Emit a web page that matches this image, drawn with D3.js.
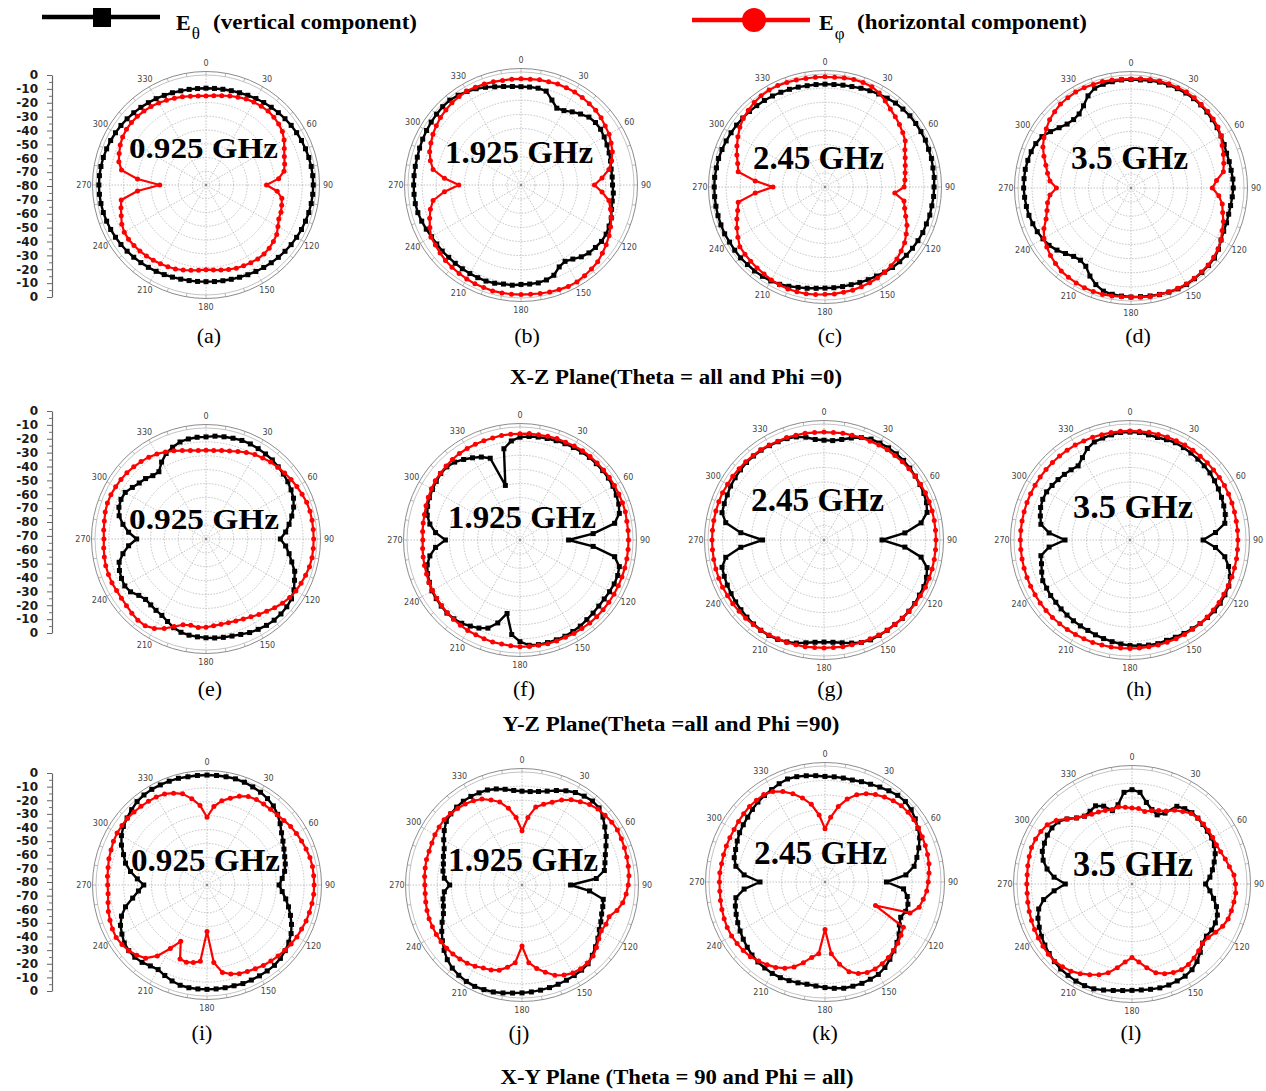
<!DOCTYPE html>
<html>
<head>
<meta charset="utf-8">
<script src="https://cdn.jsdelivr.net/npm/d3@7"></script>
<style>
  body { margin: 0; background: #fff; }
</style>
</head>
<body>
<svg id="chart" width="1266" height="1091"></svg>
<script>
// ---- categories and tick labels ----
const angles = d3.range(0, 360, 5);            // sampling angle, degrees
const angleTicks = [0, 30, 60, 90, 120, 150, 180, 210, 240, 270, 300, 330];
const ringLevels = [-70, -60, -50, -40, -30, -20, -10];
const scaleLabels = ["0","-10","-20","-30","-40","-50","-60","-70","-80","-70","-60","-50","-40","-30","-20","-10","0"];
const frequencies = ["0.925 GHz", "1.925 GHz", "2.45 GHz", "3.5 GHz"];
const panelTags = ["(a)","(b)","(c)","(d)","(e)","(f)","(g)","(h)","(i)","(j)","(k)","(l)"];
const planeTitles = [
  "X-Z Plane(Theta = all and Phi =0)",
  "Y-Z Plane(Theta =all and Phi =90)",
  "X-Y Plane (Theta = 90 and Phi = all)"
];
const legendNames = ["vertical component", "horizontal component"];

// ---- normalised patterns in dB, one value every 5 degrees ----
// X-Z plane
const xzTheta0925 = [
 -9.6,-9.5,-9.3,-9,-8.6,-8,-7.4,-6.8,-6.2,-5.6,-5,-4.4,
 -3.9,-3.4,-3,-2.6,-2.3,-2.1,-2,-2.1,-2.3,-2.6,-3,-3.4,
 -3.9,-4.4,-5,-5.6,-6.2,-6.8,-7.4,-8,-8.6,-9,-9.3,-9.5,
 -9.7,-9.6,-9.4,-9.1,-8.7,-8.1,-7.5,-6.9,-6.3,-5.7,-5.1,-4.5,
 -4,-3.5,-3.1,-2.7,-2.4,-2.2,-2.1,-2.2,-2.4,-2.7,-3.1,-3.5,
 -4,-4.5,-5.1,-5.7,-6.3,-6.9,-7.5,-8.1,-8.6,-9.1,-9.4,-9.6];
const xzPhi0925 = [
 -15.2,-14.8,-14,-13,-12,-11,-10.4,-10,-9.8,-10.2,-11,-12.2,
 -14.4,-17.2,-19.4,-20.8,-22.4,-27,-36,-28,-24,-23,-22,-21.6,
 -19.6,-17.2,-16,-15,-14.4,-14.4,-14.8,-15.2,-15.6,-16.4,-17.2,-18,
 -18.4,-17.8,-17,-16,-15,-14.4,-13.8,-13.2,-12.6,-12,-11.6,-11.2,
 -11.4,-12.4,-14.4,-16,-17.4,-30,-46.4,-30,-17.6,-14.4,-12.8,-11.2,
 -10,-9.4,-9.2,-9.4,-9.8,-10.4,-11.2,-12,-12.8,-13.6,-14.4,-15];
const xzTheta1925 = [
 -10.4,-10.4,-10.4,-11.2,-16,-20,-19.2,-16.8,-14.4,-12,-11.2,-11.2,
 -12,-12.8,-13.6,-14.4,-15.2,-15.2,-15.2,-14.4,-14.4,-13.6,-12,-11.2,
 -10.4,-10.4,-11.2,-12,-13.6,-16,-17.6,-16,-12,-10.4,-9.6,-9.6,
 -9.6,-8.8,-8.8,-8,-7.6,-7.6,-7.6,-7.6,-7.6,-7.6,-7.2,-7.2,
 -6.8,-6,-5.2,-4.4,-4,-4,-4,-4,-4,-4,-3.6,-3.2,
 -2.8,-2.4,-2,-1.6,-1.6,-2.4,-3.6,-4.8,-6.4,-8,-9.2,-10];
const xzPhi1925 = [
 -4.8,-4.8,-4.4,-4.4,-4,-4,-4,-4.4,-4.8,-5.2,-6,-7.2,
 -8,-9.6,-11.2,-13.6,-16.8,-22.4,-28,-22.4,-16.8,-14.4,-12,-10,
 -8,-6.4,-4.8,-3.2,-2.4,-1.6,-0.8,-0.8,-1.2,-1.6,-2,-2.4,
 -2.4,-2.4,-2.4,-2.4,-2.8,-2.8,-3.2,-3.6,-4,-4.4,-5.2,-6,
 -6.4,-8.8,-11.2,-13.6,-16.8,-25.6,-36,-25.6,-16.8,-13.6,-11.2,-9.6,
 -8,-6.8,-5.6,-4.8,-4,-3.6,-3.2,-3.6,-4,-4.4,-4.8,-4.8];
const xzTheta245 = [
 -7.2,-7.2,-6.8,-6.4,-5.6,-4.8,-4,-3.2,-2.4,-2,-1.6,-1.6,
 -1.6,-1.6,-2,-2,-2.4,-2.4,-2.8,-2.8,-3.2,-3.2,-3.6,-3.6,
 -4,-4.4,-4.8,-5.2,-5.6,-6.4,-7.2,-7.6,-8,-8.4,-8.4,-8.4,
 -8.4,-8,-7.2,-6.4,-5.2,-4,-3.2,-2.8,-2.4,-2.4,-2,-2,
 -2,-1.6,-1.6,-1.6,-1.6,-1.6,-1.6,-1.6,-2,-2,-2.4,-2.8,
 -3.2,-3.6,-4,-4.4,-4.8,-5.2,-5.6,-6,-6.4,-6.8,-7.2,-7.2];
const xzPhi245 = [
 -2,-2,-1.6,-1.2,-1.2,-1.6,-3.2,-5.6,-8,-9.6,-11.2,-12.8,
 -14.4,-17.6,-19.6,-21.2,-22.4,-23.2,-24,-30.4,-23.2,-21.6,-19.2,-16,
 -13.6,-11.2,-9.6,-8,-7.2,-6.4,-5.6,-5.2,-4.8,-4.4,-4.4,-4,
 -4,-3.6,-3.2,-3.2,-3.2,-3.6,-4,-4.8,-5.2,-5.6,-6,-6.4,
 -8.8,-11.2,-13.6,-16,-17.6,-30.4,-43.2,-30.4,-17.6,-16,-13.6,-11.2,
 -8.8,-6.4,-4.4,-3.2,-2,-1.2,-0.8,-0.8,-1.2,-1.6,-2,-2];
const xzTheta35 = [
 -3.2,-3.2,-2.8,-2.4,-2.4,-2.4,-2.4,-2.8,-3.2,-4,-4.8,-5.6,
 -6.4,-7.2,-8,-8,-8,-7.6,-7.6,-8,-8.4,-8.4,-8,-7.6,
 -6.4,-4.4,-2.8,-2.4,-2,-1.6,-1.2,-1.2,-1.6,-2,-2.4,-2.8,
 -2.8,-3.2,-3.6,-4.4,-7.2,-11.2,-16,-17.6,-16.8,-14.4,-11.6,-9.2,
 -8,-6.8,-6,-5.2,-4.8,-4.4,-4,-4,-4,-4.4,-4.8,-5.6,
 -7.2,-10.4,-13.6,-16,-16.8,-16,-12.8,-8,-4.8,-4,-3.6,-3.2];
const xzPhi35 = [
 -2.8,-2.4,-2,-1.6,-1.6,-1.6,-1.6,-2,-2.8,-3.2,-4,-4.8,
 -6.4,-8.8,-10.4,-12,-13.6,-19.2,-22.4,-17.6,-14.4,-12.8,-10.4,-8.8,
 -6.4,-4.8,-3.6,-2.8,-2.4,-2,-1.6,-1.6,-1.6,-2,-2,-2.4,
 -2.8,-2.8,-2.4,-2,-2,-2,-2.4,-2.8,-3.2,-4.4,-5.6,-7.2,
 -8.8,-12,-16,-18.4,-20,-22.4,-27.2,-22.4,-20,-17.6,-14.4,-11.2,
 -8.8,-6.8,-4.8,-3.6,-2.4,-2,-1.6,-1.6,-2,-2,-2.4,-2.8];

// Y-Z plane
const yzTheta0925 = [
 -6.4,-5.6,-5.2,-4.8,-4.4,-4.4,-4.8,-5.2,-5.6,-6.4,-7.2,-8,
 -9.2,-10.4,-12.8,-16,-19.2,-22.4,-26.4,-22.4,-19.2,-16,-12,-9.6,
 -6.8,-4.8,-4,-3.6,-3.6,-4,-4.8,-5.6,-6.8,-7.6,-8,-8.4,
 -8.8,-9.2,-9.6,-10.4,-12,-14.4,-16.4,-17.2,-18,-18.4,-16.8,-13.6,
 -12.4,-12.8,-13.6,-15.2,-19.2,-24,-30,-24,-19.2,-15.2,-13.2,-12.4,
 -12.8,-15.2,-17.2,-18.4,-20.4,-20.8,-16,-12,-9.6,-7.6,-6.8,-6.4];
const yzPhi0925 = [
 -16,-16,-15.2,-14.4,-12.8,-11.2,-9.6,-8.8,-7.6,-6.8,-6,-5.2,
 -4.4,-3.6,-2.8,-2.4,-2.4,-2.4,-2.4,-2.4,-2.4,-2.8,-3.6,-4.4,
 -5.2,-6.4,-8,-10,-12,-13.6,-15.2,-16.4,-17.2,-17.6,-17.6,-17.2,
 -16.4,-16,-16.8,-16,-12.8,-8.8,-5.6,-3.6,-3.6,-4.4,-5.2,-5.6,
 -5.6,-5.2,-5.2,-5.2,-5.6,-6,-6.4,-6,-5.6,-4.8,-4.4,-4.4,
 -4.8,-5.2,-5.6,-6.4,-7.2,-8,-9.2,-10.8,-12.4,-14,-15.2,-16];
const yzTheta1925 = [
 -7.2,-6.4,-6,-5.6,-5.2,-4.8,-4.4,-4,-3.6,-3.6,-3.6,-3.6,
 -4,-4.8,-5.6,-7.2,-12,-28,-45.6,-28,-12,-7.2,-6.4,-6.4,
 -6.8,-7.2,-7.2,-6.8,-6.4,-5.6,-5.2,-4.8,-4.8,-4.8,-4.8,-5.2,
 -8,-12.8,-27.2,-19.2,-13.6,-11.2,-9.6,-8,-7.2,-6.8,-7.2,-7.6,
 -8,-9.2,-10.4,-12,-15.2,-20,-27.2,-20,-15.2,-12,-10.4,-9.2,
 -8.4,-7.6,-6.8,-6.8,-8,-10.4,-12.8,-15.2,-18.4,-40,-14.4,-9.6];
const yzPhi1925 = [
 -4.8,-4.4,-4.4,-4,-3.6,-3.6,-3.2,-2.8,-2.8,-2.8,-2.8,-2.8,
 -2.8,-2.8,-2.8,-2.8,-3.2,-3.2,-3.2,-3.2,-3.2,-3.2,-3.2,-3.2,
 -3.2,-3.2,-3.2,-3.2,-3.2,-3.6,-3.6,-4,-4,-4,-4.4,-4.4,
 -4.4,-4.8,-5.2,-5.2,-5.6,-6,-6,-6.4,-6.8,-7.2,-7.6,-8,
 -8.4,-8.8,-9.6,-10,-10.4,-10.8,-11.2,-10.8,-10.4,-10,-9.2,-8.4,
 -7.6,-6.8,-6.4,-6,-5.6,-5.2,-5.2,-5.2,-5.2,-5.2,-4.8,-4.8];
const yzTheta245 = [
 -11.2,-11.2,-9.6,-7.2,-4.8,-3.2,-2.8,-2.4,-2.4,-2.4,-2.8,-3.2,
 -3.6,-4,-4.8,-6.4,-12,-24,-40,-24,-12,-6.4,-4.8,-4,
 -4,-3.6,-3.6,-3.6,-4,-4,-4,-4,-4.8,-6.4,-8,-9.2,
 -9.6,-9.2,-8,-6.4,-5.2,-4.4,-4,-4,-4.4,-4.8,-5.2,-5.6,
 -6,-6.4,-6.8,-7.2,-11.2,-22.4,-37.6,-22.4,-11.2,-7.2,-6.8,-6.4,
 -5.6,-5.2,-4.8,-4.4,-4.4,-4.4,-4.8,-5.2,-5.6,-6.4,-8,-10.4];
const yzPhi245 = [
 -5.6,-5.6,-5.2,-5.2,-4.8,-4.8,-4.4,-4,-4,-3.6,-3.6,-3.2,
 -3.2,-2.8,-2.8,-2.8,-2.8,-2.8,-2.8,-2.8,-2.8,-2.8,-2.8,-2.8,
 -3.2,-3.2,-3.6,-3.6,-4,-4,-4.4,-4.8,-4.8,-5.2,-5.2,-5.6,
 -5.6,-5.6,-5.2,-5.2,-4.8,-4.8,-4.4,-4,-4,-3.6,-3.6,-3.2,
 -3.2,-2.8,-2.8,-2.8,-2.8,-2.8,-2.8,-2.8,-2.8,-2.8,-2.8,-2.8,
 -3.2,-3.2,-3.6,-3.6,-4,-4,-4.4,-4.8,-4.8,-5.2,-5.2,-5.6];
const yzTheta35 = [
 -5.6,-5.6,-6.4,-6.8,-6.4,-6,-6.4,-6.8,-7.2,-7.6,-8,-8.8,
 -9.6,-10.4,-11.2,-12,-13.6,-20.8,-29.6,-20.8,-13.6,-9.6,-6.4,-4.8,
 -4.4,-4,-4,-4.4,-4.8,-5.2,-5.6,-6,-6.4,-6,-6.4,-6.8,
 -7.2,-8,-8.8,-9.6,-10.4,-11.2,-11.6,-12,-12.4,-12.8,-13.2,-13.2,
 -13.6,-13.6,-15.2,-16.8,-17.6,-24,-35.2,-24,-17.6,-16,-14.4,-13.6,
 -13.6,-14.4,-15.2,-16,-16.8,-17.6,-14.4,-10.4,-8,-7.2,-6.4,-5.6];
const yzPhi35 = [
 -4.8,-4.8,-4.6,-4.6,-4.4,-4.4,-4.4,-4.4,-4.6,-4.6,-4.8,-4.8,
 -4.8,-5,-5.2,-5.4,-5.6,-5.6,-5.6,-5.6,-5.4,-5.4,-5.2,-5.2,
 -5.2,-5,-5,-4.8,-4.8,-4.8,-4.8,-4.8,-5,-5,-5.2,-5.2,
 -5.2,-5.2,-5,-5,-4.8,-4.8,-4.8,-4.6,-4.6,-4.4,-4.4,-4.4,
 -4.4,-4.4,-4.4,-4.4,-4.4,-4.4,-4.4,-4.4,-4.4,-4.4,-4.4,-4.4,
 -4.4,-4.4,-4.4,-4.4,-4.4,-4.4,-4.4,-4.6,-4.6,-4.8,-4.8,-4.8];

// X-Y plane
const xyTheta0925 = [
 -0.8,-0.8,-0.8,-0.8,-1.2,-2,-2.8,-4,-5.6,-8,-11.2,-14.4,
 -16.8,-18.8,-20.4,-21.6,-23.2,-25.6,-28,-25.6,-22.4,-19.2,-16,-12.8,
 -10,-8,-6.4,-5.2,-4.4,-4.4,-4.4,-4.4,-4.4,-4.8,-4.8,-4.8,
 -4.8,-4.8,-4.8,-5.2,-6.4,-8,-9.6,-8.8,-7.2,-6.4,-6.4,-7.2,
 -9.2,-11.2,-14.4,-19.2,-25.6,-30.4,-34.4,-29.6,-24,-19.2,-16,-12,
 -8.8,-6.4,-4.8,-3.2,-1.6,-0.8,-0.4,-0.4,-0.4,-0.4,-0.8,-0.8];
const xyPhi0925 = [
 -31.2,-23.2,-18.4,-15.2,-12,-9.6,-8.8,-8.8,-8.8,-8.4,-7.6,-6.4,
 -5.6,-4.8,-4,-3.2,-2.8,-2.8,-2.8,-2.8,-3.2,-3.6,-4,-4.8,
 -5.2,-6,-6.8,-7.6,-8.4,-9.2,-10.4,-11.2,-12,-13.6,-16,-24,
 -46.4,-24.8,-23.2,-22.4,-23.2,-35.2,-27.2,-17.6,-11.2,-8.4,-6.4,-5.2,
 -4.4,-4.8,-5.6,-6.4,-7.6,-8.4,-8.4,-8,-7.6,-6.8,-6.4,-5.6,
 -5.2,-5.2,-5.2,-5.6,-6,-6.4,-6.8,-7.6,-9.6,-12,-16.8,-22.4];
const xyTheta1925 = [
 -13.6,-13.6,-12.8,-11.2,-8.8,-6.4,-4.4,-3.2,-2.4,-2.8,-5.2,-8.4,
 -11.2,-14.4,-17.2,-19.2,-20.8,-27.2,-45.6,-32,-21.6,-20.8,-20,-18.4,
 -16.8,-14.4,-12,-9.6,-7.2,-6.4,-6,-5.6,-5.2,-4.8,-4.4,-4,
 -3.6,-3.2,-2.4,-1.6,-1.2,-0.8,-1.2,-2,-3.2,-5.2,-8,-11.2,
 -14.4,-17.6,-20.8,-22.4,-23.2,-24.8,-28.8,-24.8,-23.2,-22.4,-20.8,-19.2,
 -16,-12.8,-10,-8.8,-8,-7.6,-7.6,-8,-8.4,-9.6,-11.2,-12.8];
const xyPhi1925 = [
 -41.6,-32,-24,-20.8,-17.6,-13.6,-10.4,-8,-5.6,-4,-3.2,-2.4,
 -2,-2.4,-2.8,-3.2,-3.6,-4,-4.8,-6,-7.6,-10.4,-14.4,-14.4,
 -15.2,-13.6,-11.2,-8.8,-8,-7.6,-8,-9.6,-12,-16,-20,-24.8,
 -36.8,-24.8,-20.8,-17.6,-16,-15.2,-13.6,-12.4,-11.6,-10.8,-10.4,-10,
 -10,-10,-10,-10.4,-10.8,-11.2,-11.2,-10.8,-10.4,-10,-10,-9.6,
 -8.8,-8.4,-8,-8.4,-9.2,-10,-11.2,-12.8,-16,-19.2,-24.8,-32];
const xyTheta245 = [
 -7.2,-7.2,-7.2,-7.2,-6.4,-5.6,-4.4,-3.2,-2,-1.6,-2.4,-4,
 -6,-8,-11.2,-14.4,-17.6,-24,-37.6,-25.6,-22.4,-20.8,-20.8,-22.4,
 -20.8,-17.6,-15.2,-12.8,-10.4,-8,-6.4,-6,-5.6,-5.6,-5.6,-6.4,
 -7.2,-8,-8.4,-8,-7.6,-7.2,-7.2,-7.6,-8,-8.8,-10,-11.2,
 -12.4,-13.6,-14.8,-16,-17.6,-24,-35.2,-24,-17.6,-15.2,-14.4,-13.2,
 -12,-11.2,-10.4,-9.2,-8,-7.2,-6.4,-5.2,-4.4,-4.8,-5.6,-6.4];
const xyPhi245 = [
 -43.2,-35.2,-27.2,-20.8,-16,-12.8,-10.4,-8.4,-6.8,-5.6,-5.2,-5.2,
 -5.6,-6,-6.4,-6.8,-7.2,-8,-8.8,-9.6,-11.2,-12.8,-17.6,-41.6,
 -17.6,-16,-14.4,-13.2,-12,-11.2,-10.8,-11.2,-12.8,-16,-22.4,-30.4,
 -47.2,-30.4,-27.2,-22.4,-17.6,-14.4,-12,-10.4,-8.8,-7.2,-6.4,-6,
 -5.6,-5.6,-6,-6.4,-6.8,-7.2,-7.2,-7.2,-7.6,-7.6,-7.6,-7.6,
 -7.6,-7.2,-6.8,-6.4,-6.4,-6.4,-8,-11.2,-15.2,-20,-25.6,-33.6];
const xyTheta35 = [
 -14.4,-16,-22.4,-26.4,-28.8,-25.6,-17.6,-16,-15.2,-15.2,-15.6,-16,
 -16,-16.8,-18.4,-20.8,-23.2,-25.6,-28.8,-25.6,-22.4,-19.2,-16.8,-16,
 -16,-16.8,-16,-12.8,-9.6,-7.2,-6,-5.6,-5.2,-5.2,-5.6,-6,
 -6,-5.6,-4.8,-3.6,-2.4,-2,-2,-2.4,-2.8,-3.6,-4.8,-6,
 -7.2,-8.8,-10.4,-12.8,-17.6,-25.6,-33.6,-25.6,-20,-16,-13.6,-12.8,
 -12,-12,-12.8,-16,-20,-22.4,-21.6,-20,-22.4,-27.2,-24,-16];
const xyPhi35 = [
 -27.2,-27.2,-28.8,-27.2,-25.6,-24,-20.8,-18.4,-16,-15.2,-15.2,-15.2,
 -15.2,-15.2,-14.4,-12.8,-11.2,-8.8,-8,-7.6,-8,-8.4,-8.8,-10.4,
 -12.8,-15.2,-16,-14.4,-12.8,-11.6,-11.2,-12,-13.6,-16,-20.8,-25.6,
 -28.8,-25.6,-20.8,-16,-12.8,-10.4,-8,-6,-4.8,-4,-4,-4.4,
 -4.8,-5.2,-5.6,-6,-6.4,-6.8,-6.8,-6.8,-6.4,-6,-5.6,-6,
 -6.8,-8,-11.2,-16,-20,-22.4,-24,-24.8,-25.6,-26.4,-25.6,-26.4];

// ---- panels, row by row ----
const panelSeries = [
  [xzTheta0925, xzPhi0925], [xzTheta1925, xzPhi1925], [xzTheta245, xzPhi245], [xzTheta35, xzPhi35],
  [yzTheta0925, yzPhi0925], [yzTheta1925, yzPhi1925], [yzTheta245, yzPhi245], [yzTheta35, yzPhi35],
  [xyTheta0925, xyPhi0925], [xyTheta1925, xyPhi1925], [xyTheta245, xyPhi245], [xyTheta35, xyPhi35]
];

// ---- page layout ----
const layout = [
  {cx: 206, cy: 185, r: 110, fx: 129, fy: 158, fw: 149, fs: 30, tx: 209, ty: 343},
  {cx: 521, cy: 185, r: 113, fx: 445, fy: 163, fw: 148, fs: 31, tx: 527, ty: 343},
  {cx: 825, cy: 187, r: 113, fx: 753, fy: 169, fw: 131, fs: 34, tx: 830, ty: 343},
  {cx: 1131, cy: 188, r: 113, fx: 1071, fy: 169, fw: 117, fs: 34, tx: 1138, ty: 343},
  {cx: 206, cy: 539, r: 111, fx: 129, fy: 529, fw: 150, fs: 30, tx: 210, ty: 696},
  {cx: 520, cy: 540, r: 113, fx: 448, fy: 528, fw: 148, fs: 32, tx: 524, ty: 696},
  {cx: 824, cy: 540, r: 116, fx: 751, fy: 511, fw: 133, fs: 33, tx: 830, ty: 696},
  {cx: 1130, cy: 540, r: 116, fx: 1073, fy: 518, fw: 120, fs: 34, tx: 1139, ty: 696},
  {cx: 207, cy: 885, r: 111, fx: 131, fy: 871, fw: 149, fs: 31, tx: 202, ty: 1040},
  {cx: 522, cy: 885, r: 113, fx: 448, fy: 871, fw: 150, fs: 33, tx: 519, ty: 1040},
  {cx: 825, cy: 882, r: 116, fx: 754, fy: 864, fw: 133, fs: 33, tx: 825, ty: 1040},
  {cx: 1132, cy: 884, r: 115, fx: 1073, fy: 876, fw: 120, fs: 35, tx: 1131, ty: 1040}
];
const scaleRows = [[75, 297], [411, 633], [773, 991]];
const titleLayout = [
  {x: 676, y: 384, w: 332}, {x: 671, y: 731, w: 337}, {x: 677, y: 1084, w: 353}
];

const serif = "'Liberation Serif','Times New Roman',serif";
const sans = "'DejaVu Sans','Liberation Sans',Arial,sans-serif";
const svg = d3.select("#chart");
const rad = d => d * Math.PI / 180;

// ---- legend ----
const leg = svg.append("g");
leg.append("line").attr("x1", 42).attr("x2", 160).attr("y1", 17).attr("y2", 17)
  .attr("stroke", "#000").attr("stroke-width", 4.5);
leg.append("rect").attr("x", 93).attr("y", 8).attr("width", 18).attr("height", 19).attr("fill", "#000");
leg.append("line").attr("x1", 692).attr("x2", 810).attr("y1", 20).attr("y2", 20)
  .attr("stroke", "#ff0000").attr("stroke-width", 4.5);
leg.append("circle").attr("cx", 754).attr("cy", 20).attr("r", 12).attr("fill", "#ff0000");

function legendLabel(x, sub, name, nameX, nameW) {
  const t = leg.append("text").attr("x", x).attr("y", 30)
    .style("font-family", serif).style("font-weight", "bold").style("font-size", "22px");
  t.append("tspan").text("E");
  t.append("tspan").attr("dy", 9).attr("dx", 1).style("font-size", "17px").style("font-weight", "normal").text(sub);
  leg.append("text").attr("x", nameX).attr("y", 29)
    .attr("textLength", nameW).attr("lengthAdjust", "spacingAndGlyphs")
    .style("font-family", serif).style("font-weight", "bold").style("font-size", "21px")
    .text("(" + name + ")");
}
legendLabel(176, "θ", legendNames[0], 213, 204);
legendLabel(819, "φ", legendNames[1], 857, 230);

// ---- dB scale bars on the left ----
scaleRows.forEach(([y0, y1]) => {
  const ys = d3.scaleLinear().domain([0, 16]).range([y0, y1]);
  const major = svg.append("g").attr("transform", "translate(52,0)")
    .call(d3.axisLeft(ys).tickValues(d3.range(17)).tickFormat(i => scaleLabels[i])
      .tickSize(5).tickSizeOuter(0).tickPadding(9));
  major.select(".domain").attr("stroke", "#666").attr("stroke-width", 1.2);
  major.selectAll(".tick line").attr("stroke", "#666");
  major.selectAll(".tick text").style("font-family", sans).style("font-weight", "bold")
    .style("font-size", "12px").attr("fill", "#1a1a1a");
  const minor = svg.append("g").attr("transform", "translate(52,0)")
    .call(d3.axisLeft(ys).tickValues(d3.range(0.5, 16, 1)).tickFormat("").tickSize(3));
  minor.select(".domain").remove();
  minor.selectAll(".tick line").attr("stroke", "#777");
});

// ---- polar panels ----
panelSeries.forEach(([theta, phi], i) => {
  const L = layout[i];
  const rs = d3.scaleLinear().domain([-80, 0]).range([0, L.r]);
  const g = svg.append("g").attr("transform", `translate(${L.cx},${L.cy})`);

  // frame
  g.append("circle").attr("r", L.r + 3.5).attr("fill", "none").attr("stroke", "#8c8c8c").attr("stroke-width", 1);
  g.append("circle").attr("r", rs(0)).attr("fill", "none").attr("stroke", "#b4b4b4").attr("stroke-width", 0.8);
  g.selectAll(".frame-tick").data(d3.range(0, 360, 10)).join("line")
    .attr("x1", d => rs(0) * Math.sin(rad(d))).attr("y1", d => -rs(0) * Math.cos(rad(d)))
    .attr("x2", d => (L.r + 3.5) * Math.sin(rad(d))).attr("y2", d => -(L.r + 3.5) * Math.cos(rad(d)))
    .attr("stroke", "#9a9a9a").attr("stroke-width", 0.7);

  // grid
  g.selectAll(".ring").data(ringLevels).join("circle")
    .attr("r", d => rs(d)).attr("fill", "none")
    .attr("stroke", "#a9a9a9").attr("stroke-width", 0.7).attr("stroke-dasharray", "1.5,1.5");
  g.selectAll(".spoke").data(angleTicks).join("line")
    .attr("x1", 0).attr("y1", 0)
    .attr("x2", d => rs(0) * Math.sin(rad(d))).attr("y2", d => -rs(0) * Math.cos(rad(d)))
    .attr("stroke", "#a9a9a9").attr("stroke-width", 0.7).attr("stroke-dasharray", "1.5,1.5");
  g.append("circle").attr("r", 1.2).attr("fill", "#888");

  // angle labels
  g.selectAll(".alabel").data(angleTicks).join("text")
    .attr("x", d => (L.r + 12) * Math.sin(rad(d)))
    .attr("y", d => -(L.r + 12) * Math.cos(rad(d)))
    .attr("text-anchor", "middle").attr("dominant-baseline", "central")
    .style("font-family", sans).style("font-size", "8px").attr("fill", "#444")
    .text(d => d);

  // pattern curves
  const radial = d3.lineRadial()
    .angle(d => rad(d[0])).radius(d => rs(d[1])).curve(d3.curveLinearClosed);
  const px = d => rs(d[1]) * Math.sin(rad(d[0]));
  const py = d => -rs(d[1]) * Math.cos(rad(d[0]));

  const tPts = angles.map((a, k) => [a, theta[k]]);
  const pPts = angles.map((a, k) => [a, phi[k]]);

  g.append("path").datum(tPts).attr("d", radial).attr("fill", "none")
    .attr("stroke", "#000").attr("stroke-width", 2.4).attr("stroke-linejoin", "round");
  g.selectAll(".sq").data(tPts).join("rect")
    .attr("x", d => px(d) - 2.5).attr("y", d => py(d) - 2.5)
    .attr("width", 5).attr("height", 5).attr("fill", "#000");

  g.append("path").datum(pPts).attr("d", radial).attr("fill", "none")
    .attr("stroke", "#ff0000").attr("stroke-width", 2.2).attr("stroke-linejoin", "round");
  g.selectAll(".dot").data(pPts).join("circle")
    .attr("cx", px).attr("cy", py).attr("r", 2.5).attr("fill", "#ff0000");

  // frequency label
  svg.append("text").attr("x", L.fx).attr("y", L.fy)
    .attr("textLength", L.fw).attr("lengthAdjust", "spacingAndGlyphs")
    .style("font-family", serif).style("font-weight", "bold").style("font-size", L.fs + "px")
    .attr("fill", "#000").text(frequencies[i % 4]);

  // panel tag
  svg.append("text").attr("x", L.tx).attr("y", L.ty).attr("text-anchor", "middle")
    .style("font-family", serif).style("font-size", "22px").attr("fill", "#000")
    .text(panelTags[i]);
});

// ---- plane captions ----
planeTitles.forEach((t, i) => {
  const T = titleLayout[i];
  svg.append("text").attr("x", T.x).attr("y", T.y).attr("text-anchor", "middle")
    .attr("textLength", T.w).attr("lengthAdjust", "spacingAndGlyphs")
    .style("font-family", serif).style("font-weight", "bold").style("font-size", "20px")
    .text(t);
});
</script>
</body>
</html>
